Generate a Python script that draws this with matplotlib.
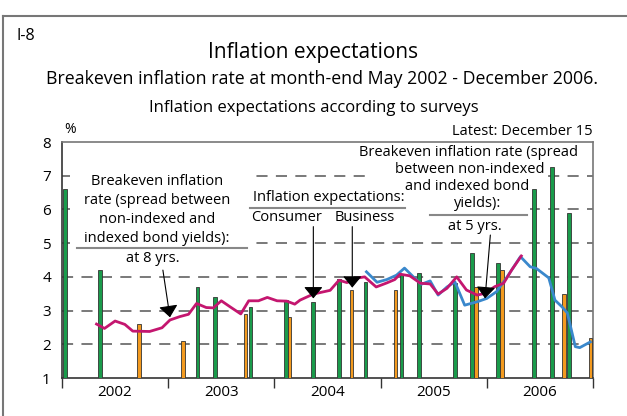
import matplotlib
matplotlib.use("Agg")
import matplotlib.pyplot as plt
from matplotlib.lines import Line2D
from matplotlib.patches import Rectangle

plt.rcParams['font.family'] = ['Open Sans', 'DejaVu Sans']
plt.rcParams['lines.scale_dashes'] = False

# months counted from January 2002 (0 = Jan 2002)
years = ['2002', '2003', '2004', '2005', '2006']

# breakeven inflation rate, 8 yrs (magenta)
be8_months = [3.9, 4.8, 6.0, 7.1, 8.0, 9.9, 11.3, 12.2, 13.3, 14.3, 15.2, 16.3,
              17.1, 18.0, 19.0, 20.2, 21.1, 22.2, 23.2, 24.3, 25.4, 26.3, 26.9,
              28.4, 30.3, 31.3, 32.2, 33.3, 34.2, 35.5, 36.7, 37.6, 38.2, 39.3,
              40.5, 41.6, 42.5, 43.5, 44.6, 45.7, 46.9, 47.8, 48.9, 49.9, 50.8, 51.9]
be8_values = [2.60, 2.47, 2.69, 2.59, 2.39, 2.38, 2.49, 2.72, 2.82, 2.89, 3.21, 3.09,
              3.08, 3.29, 3.11, 2.90, 3.29, 3.29, 3.39, 3.29, 3.28, 3.19, 3.31,
              3.49, 3.60, 3.90, 3.83, 3.96, 4.00, 3.70, 3.82, 3.92, 4.08, 4.03,
              3.81, 3.79, 3.49, 3.66, 4.00, 3.61, 3.46, 3.51, 3.71, 3.81, 4.20, 4.62]

# breakeven inflation rate, 5 yrs (blue)
be5_months = [34.4, 35.6, 36.7, 37.8, 38.7, 39.7, 40.6, 41.6, 42.5, 43.5, 44.4,
              45.5, 46.9, 48.0, 49.1, 50.2, 51.8, 52.9, 53.6, 55.0, 55.7, 56.5,
              57.1, 58.0, 58.5, 59.7]
be5_values = [4.15, 3.84, 3.92, 4.05, 4.26, 4.00, 3.78, 3.88, 3.46, 3.70, 3.85,
              3.16, 3.26, 3.36, 3.56, 3.96, 4.60, 4.30, 4.25, 3.97, 3.31, 3.11,
              2.93, 1.93, 1.90, 2.07]

# survey expectations
consumer_months = [0.34, 4.29, 15.32, 17.31, 21.30, 25.32, 28.33, 31.30, 34.28,
                   38.35, 40.30, 44.37, 46.36, 49.30, 53.36, 55.35, 57.31]
consumer_values = [6.6, 4.2, 3.7, 3.4, 3.1, 3.3, 3.25, 3.95, 3.85,
                   4.05, 4.1, 3.83, 4.7, 4.4, 6.6, 7.25, 5.9]
business_months = [8.73, 13.69, 20.74, 25.70, 32.70, 37.67, 46.74, 49.75, 56.70, 59.72]
business_values = [2.6, 2.1, 2.9, 2.8, 3.6, 3.6, 3.7, 4.2, 3.5, 2.2]

green = '#1a9b4b'
orange = '#f39a1f'
magenta = '#c4166f'
blue = '#3a88cc'

W, H = 627, 416
fig = plt.figure(figsize=(W / 100, H / 100), dpi=100)
ax = fig.add_axes([62 / W, 1 - 378 / H, (593 - 62) / W, (378 - 142) / H])

ax.set_xlim(0, 60)
ax.set_ylim(1, 8)

# dashed grid
for v in range(2, 8):
    ax.axhline(v, color='#555555', lw=1.1, dashes=(8, 6), zorder=1)

# white areas behind the annotations
for (x0, y0, x1, y1) in [(0.9, 4.35, 21.4, 8.0), (20.5, 5.45, 39.0, 6.65),
                         (35.1, 6.75, 54.9, 8.0), (38.0, 5.4, 52.9, 6.75)]:
    ax.add_patch(Rectangle((x0, y0), x1 - x0, y1 - y0, facecolor='white',
                           edgecolor='none', zorder=2))

bw = 0.42
ax.bar(consumer_months, [v - 1 for v in consumer_values], bottom=1, width=bw,
       color=green, edgecolor='#333333', linewidth=0.6, zorder=3)
ax.bar(business_months, [v - 1 for v in business_values], bottom=1, width=bw,
       color=orange, edgecolor='#333333', linewidth=0.6, zorder=3)

ax.plot(be5_months, be5_values, color=blue, lw=2, zorder=4)
ax.plot(be8_months, be8_values, color=magenta, lw=2, zorder=5)

# axes styling
for side in ['left', 'bottom']:
    ax.spines[side].set_color('#333333')
    ax.spines[side].set_linewidth(1.2)
for side in ['top', 'right']:
    ax.spines[side].set_color('#777777')
    ax.spines[side].set_linewidth(1.2)

ax.set_yticks(range(1, 9))
ax.tick_params(axis='y', length=0, labelsize=11, pad=8)
ax.set_xticks(range(0, 61, 12))
ax.set_xticklabels([])
ax.tick_params(axis='x', which='major', length=7, width=1, color='#333333', direction='out')
ax.set_xticks([6 + 12 * i for i in range(5)], minor=True)
ax.set_xticklabels(years, minor=True)
ax.tick_params(axis='x', which='minor', length=0, labelsize=11, pad=5)

# annotations
fs = 10.5
left_lines = ['Breakeven inflation', 'rate (spread between', 'non-indexed and',
              'indexed bond yields):']
for i, t in enumerate(left_lines):
    ax.text(10.7, 6.82 - i * 0.565, t, ha='center', va='center', fontsize=fs, zorder=6)
ax.plot([1.7, 20.9], [4.85, 4.85], color='#888888', lw=1.5, zorder=6)
ax.text(10.3, 4.53, 'at 8 yrs.', ha='center', va='center', fontsize=fs, zorder=6)

ax.text(30.2, 6.34, 'Inflation expectations:', ha='center', va='center', fontsize=fs, zorder=6)
ax.plot([21.2, 38.8], [6.03, 6.03], color='#888888', lw=1.5, zorder=6)
ax.text(25.4, 5.75, 'Consumer', ha='center', va='center', fontsize=fs, zorder=6)
ax.text(34.2, 5.75, 'Business', ha='center', va='center', fontsize=fs, zorder=6)

right_lines = [('Breakeven inflation rate (spread', 45.9), ('between non-indexed', 46.1),
               ('and indexed bond', 45.8), ('yields):', 47.0)]
for i, (t, xc) in enumerate(right_lines):
    ax.text(xc, 7.68 - i * 0.5, t, ha='center', va='center', fontsize=fs, zorder=6)
ax.plot([41.6, 52.5], [5.83, 5.83], color='#888888', lw=1.5, zorder=6)
ax.text(46.7, 5.5, 'at 5 yrs.', ha='center', va='center', fontsize=fs, zorder=6)

arrow = dict(arrowstyle='-|>,head_length=0.55,head_width=0.45', color='black',
             lw=0.8, mutation_scale=13, shrinkA=0, shrinkB=0)
for (xy, xytext) in [((12.2, 2.80), (11.4, 4.2)), ((28.4, 3.36), (28.4, 5.49)),
                     ((32.8, 3.68), (32.8, 5.49)), ((47.8, 3.36), (48.4, 5.24))]:
    ax.annotate('', xy=xy, xytext=xytext, arrowprops=arrow, zorder=7)

# figure texts
fig.text(313.5 / W, 1 - 58 / H, 'Inflation expectations', ha='center', va='baseline', fontsize=15)
fig.text(322 / W, 1 - 84 / H, 'Breakeven inflation rate at month-end May 2002 - December 2006.',
         ha='center', va='baseline', fontsize=12.8)
fig.text(313.5 / W, 1 - 112 / H, 'Inflation expectations according to surveys',
         ha='center', va='baseline', fontsize=12)
fig.text(17 / W, 1 - 40 / H, 'I-8', ha='left', va='baseline', fontsize=11.5)
fig.text(64 / W, 1 - 133 / H, '%', ha='left', va='baseline', fontsize=10)
fig.text(593 / W, 1 - 135 / H, 'Latest: December 15', ha='right', va='baseline', fontsize=10.5)

# frame around the figure
fig.add_artist(Line2D([3 / W, 3 / W], [0, 1 - 16 / H], color='#777777', lw=1.5))
fig.add_artist(Line2D([3 / W, 1], [1 - 16 / H, 1 - 16 / H], color='#777777', lw=1.5))

fig.savefig('out.png', dpi=100)
